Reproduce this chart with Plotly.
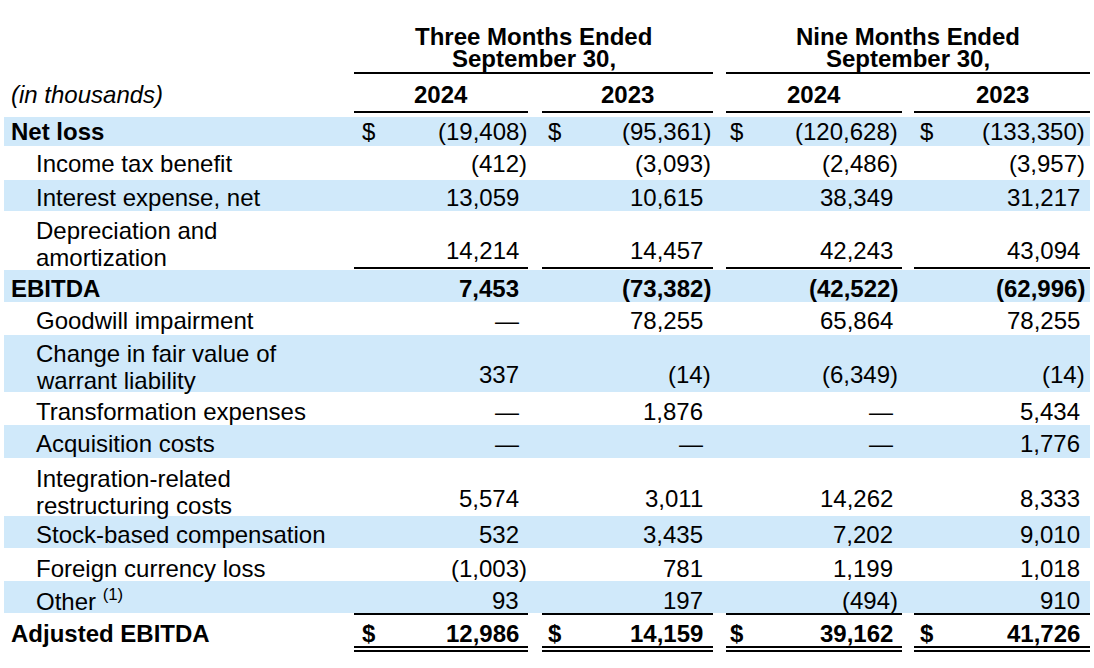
import plotly.graph_objects as go

# ---------------- data ----------------
labels = [
    "Net loss", "Income tax benefit", "Interest expense, net",
    "Depreciation and\namortization", "EBITDA", "Goodwill impairment",
    "Change in fair value of\nwarrant liability", "Transformation expenses",
    "Acquisition costs", "Integration-related\nrestructuring costs",
    "Stock-based compensation", "Foreign currency loss", "Other <sup>(1)</sup>",
    "Adjusted EBITDA",
]
q3_2024 = [-19408, -412, 13059, 14214, 7453, None, 337, None, None, 5574, 532, -1003, 93, 12986]
q3_2023 = [-95361, -3093, 10615, 14457, -73382, 78255, -14, 1876, None, 3011, 3435, 781, 197, 14159]
ytd_2024 = [-120628, -2486, 38349, 42243, -42522, 65864, -6349, None, None, 14262, 7202, 1199, -494, 39162]
ytd_2023 = [-133350, -3957, 31217, 43094, -62996, 78255, -14, 5434, 1776, 8333, 9010, 1018, 910, 41726]
period_headers = [["Three Months Ended", "September 30,"], ["Nine Months Ended", "September 30,"]]
year_labels = ["2024", "2023", "2024", "2023"]
unit_label = "(in thousands)"

series = [q3_2024, q3_2023, ytd_2024, ytd_2023]
bold_label_rows = {"Net loss", "EBITDA", "Adjusted EBITDA"}
bold_value_rows = {"EBITDA", "Adjusted EBITDA"}
dollar_rows = {"Net loss", "Adjusted EBITDA"}

# ---------------- layout (pixel geometry) ----------------
W, H = 1094, 668
FONT = "Liberation Sans, Arial, Helvetica, sans-serif"
FS = 24
BAND = "#D0E9FA"
row_top = [117, 146, 180, 211, 270, 302, 335, 392, 425, 458, 516, 548, 581, 614]
row_bot = [146, 180, 211, 268, 302, 335, 392, 425, 458, 516, 548, 581, 613, 645]
row_mid = [131, 163, 197, 250, 288, 320, 374, 411, 443, 498, 534, 568, 600, 633]
two_line_y = {3: (230, 257), 6: (353, 380), 9: (478, 505)}
shaded = [True, False, True, False, True, False, True, False, True, False, True, False, True, False]
col_seg = [(354, 528), (542, 713), (726, 902), (914, 1090)]
col_right_pos = [519, 703, 893, 1080]
col_right_neg = [527, 711, 898, 1085]
dollar_x = [362, 548, 730, 920]
span_seg = [(354, 713), (726, 1090)]

shapes = []
annotations = []


def txt(x, y, text, anchor="left", bold=False, size=FS):
    if bold:
        text = "<b>" + text + "</b>"
    annotations.append(dict(
        x=x, y=y, xref="x", yref="y", text=text, showarrow=False,
        xanchor=anchor, yanchor="middle", borderpad=0, borderwidth=0,
        font=dict(family=FONT, size=size, color="black"),
    ))


def hline(x0, x1, y, w=2):
    shapes.append(dict(type="line", x0=x0, x1=x1, y0=y, y1=y, xref="x", yref="y",
                       line=dict(color="black", width=w), layer="above"))


def fmt(v):
    if v is None:
        return "—"
    s = f"{abs(v):,}"
    return f"({s})" if v < 0 else s


# shaded bands
for i, sh in enumerate(shaded):
    if sh:
        shapes.append(dict(type="rect", x0=4, x1=1090, y0=row_top[i], y1=row_bot[i],
                           xref="x", yref="y", fillcolor=BAND, line=dict(width=0), layer="below"))

# headers
for k, (l1, l2) in enumerate(period_headers):
    cx = (span_seg[k][0] + span_seg[k][1]) / 2
    txt(cx, 36, l1, "center", True)
    txt(cx, 58, l2, "center", True)
    hline(span_seg[k][0], span_seg[k][1], 73)
txt(11, 94, "<i>" + unit_label + "</i>")
for c, yl in enumerate(year_labels):
    cx = (col_seg[c][0] + col_seg[c][1]) / 2
    txt(cx, 94, yl, "center", True)
    hline(col_seg[c][0], col_seg[c][1], 112)

# body
for i, lab in enumerate(labels):
    indent = 11 if lab in bold_label_rows else 36
    if "\n" in lab:
        for line, y in zip(lab.split("\n"), two_line_y[i]):
            txt(indent, y, line)
    else:
        txt(indent, row_mid[i], lab, bold=lab in bold_label_rows)
    for c, ser in enumerate(series):
        v = ser[i]
        x = col_right_neg[c] if (v is not None and v < 0) else col_right_pos[c]
        txt(x, row_mid[i], fmt(v), "right", bold=lab in bold_value_rows)
        if lab in dollar_rows:
            txt(dollar_x[c], row_mid[i], "$", "left", bold=lab in bold_value_rows)

# rules
for (x0, x1) in col_seg:
    hline(x0, x1, 268)
    hline(x0, x1, 614)
    hline(x0, x1, 647, 2)
    hline(x0, x1, 651, 2)

fig = go.Figure()
fig.add_trace(go.Scatter(x=[0, W], y=[0, H], mode="markers", marker=dict(opacity=0),
                         hoverinfo="skip", showlegend=False))
fig.update_layout(
    width=W, height=H, autosize=False,
    margin=dict(l=0, r=0, t=0, b=0),
    paper_bgcolor="white", plot_bgcolor="white",
    xaxis=dict(range=[0, W], visible=False, fixedrange=True),
    yaxis=dict(range=[H, 0], visible=False, fixedrange=True),
    shapes=shapes, annotations=annotations, showlegend=False,
)
fig.write_html("out.html", config={"displayModeBar": False},
               post_script="document.body.style.margin='0';document.body.style.padding='0';")
